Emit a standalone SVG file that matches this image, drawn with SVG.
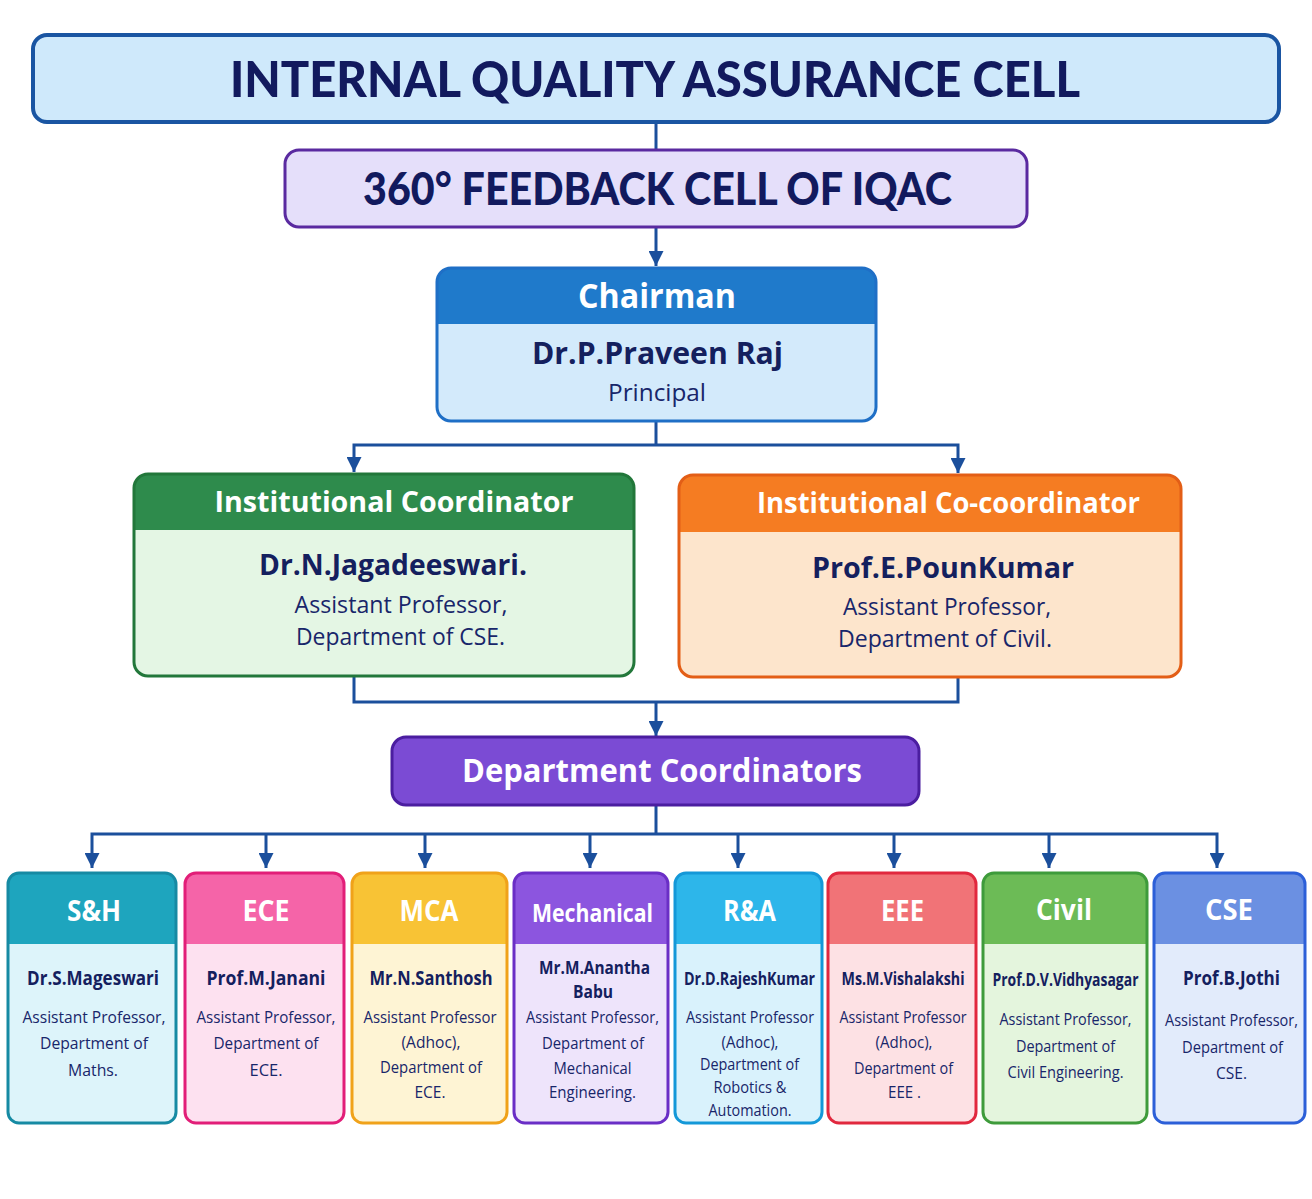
<svg xmlns="http://www.w3.org/2000/svg" width="1312" height="1199" viewBox="0 0 1312 1199">
<defs>
<style>
.ttl{font-family:Lato,"Open Sans","Liberation Sans",sans-serif;font-weight:900;fill:#121a5e;text-anchor:middle}
.hd{font-family:"Open Sans","Liberation Sans",sans-serif;font-weight:700;fill:#ffffff;text-anchor:middle}
.nm{font-family:"Open Sans","Liberation Sans",sans-serif;font-weight:700;fill:#14205e;text-anchor:middle}
.tx{font-family:"Open Sans","Liberation Sans",sans-serif;font-weight:400;fill:#18266a;text-anchor:middle}
.con{fill:none;stroke:#1b4f9c;stroke-width:3}
.s16{font-size:16px}
.n19{font-size:19px}
.h28{font-size:28px}
</style>
<marker id="ah" viewBox="0 0 15 15" refX="15" refY="7.5" markerWidth="15" markerHeight="15" markerUnits="userSpaceOnUse" orient="auto">
<path d="M0,0 L15,7.5 L0,15 Z" fill="#1b4f9c"/>
</marker>
</defs>
<rect x="0" y="0" width="1312" height="1199" fill="#ffffff"/>

<g id="connectors">
<path class="con" d="M656,122 V150"/>
<path class="con" d="M656,227 V266" marker-end="url(#ah)"/>
<path class="con" d="M656,421 V445"/>
<path class="con" d="M656,445 H354 V472" marker-end="url(#ah)"/>
<path class="con" d="M656,445 H958 V473" marker-end="url(#ah)"/>
<path class="con" d="M354,676 V702 H656"/>
<path class="con" d="M958,677 V702 H656"/>
<path class="con" d="M656,702 V736" marker-end="url(#ah)"/>
<path class="con" d="M656,805 V834"/>
<path class="con" d="M656,834 H92 V868" marker-end="url(#ah)"/>
<path class="con" d="M656,834 H1217 V868" marker-end="url(#ah)"/>
<path class="con" d="M266,834 V868" marker-end="url(#ah)"/>
<path class="con" d="M425,834 V868" marker-end="url(#ah)"/>
<path class="con" d="M590,834 V868" marker-end="url(#ah)"/>
<path class="con" d="M738,834 V868" marker-end="url(#ah)"/>
<path class="con" d="M894,834 V868" marker-end="url(#ah)"/>
<path class="con" d="M1049,834 V868" marker-end="url(#ah)"/>
</g>

<g id="iqac">
<rect x="33" y="35" width="1246" height="87" rx="14" fill="#cfe9fb" stroke="#1a55a2" stroke-width="4"/>
<text class="ttl" x="655" y="97" font-size="50" textLength="850" lengthAdjust="spacingAndGlyphs">INTERNAL QUALITY ASSURANCE CELL</text>
</g>

<g id="feedback">
<rect x="285" y="150" width="742" height="77" rx="14" fill="#e5dffa" stroke="#5a2aa0" stroke-width="3"/>
<text class="ttl" x="657.5" y="205" font-size="46" textLength="589" lengthAdjust="spacingAndGlyphs">360° FEEDBACK CELL OF IQAC</text>
</g>

<g id="chairman">
<rect x="437" y="268" width="439" height="153" rx="14" fill="#d3eafb"/>
<path d="M437,324 V282 A14,14 0 0 1 451,268 H862 A14,14 0 0 1 876,282 V324 Z" fill="#1f7acb"/>
<rect x="437" y="268" width="439" height="153" rx="14" fill="none" stroke="#1f6fc6" stroke-width="3"/>
<text class="hd" x="657" y="308" font-size="34" textLength="158" lengthAdjust="spacingAndGlyphs">Chairman</text>
<text class="nm" x="657.5" y="364" font-size="30" textLength="251" lengthAdjust="spacingAndGlyphs">Dr.P.Praveen Raj</text>
<text class="tx" x="657" y="401" font-size="24" textLength="98" lengthAdjust="spacingAndGlyphs">Principal</text>
</g>

<g id="inst-coordinator">
<rect x="134" y="474" width="500" height="202" rx="14" fill="#e4f6e4"/>
<path d="M134,530 V488 A14,14 0 0 1 148,474 H620 A14,14 0 0 1 634,488 V530 Z" fill="#2e8b4c"/>
<rect x="134" y="474" width="500" height="202" rx="14" fill="none" stroke="#22773a" stroke-width="3"/>
<text class="hd" x="394" y="512" font-size="29" textLength="359" lengthAdjust="spacingAndGlyphs">Institutional Coordinator</text>
<text class="nm" x="393" y="575" font-size="29" textLength="268" lengthAdjust="spacingAndGlyphs">Dr.N.Jagadeeswari.</text>
<text class="tx" x="401" y="613" font-size="23" textLength="213" lengthAdjust="spacingAndGlyphs">Assistant Professor,</text>
<text class="tx" x="400.5" y="645" font-size="23" textLength="209" lengthAdjust="spacingAndGlyphs">Department of CSE.</text>
</g>

<g id="inst-co-coordinator">
<rect x="679" y="475" width="502" height="202" rx="14" fill="#fde5cc"/>
<path d="M679,532 V489 A14,14 0 0 1 693,475 H1167 A14,14 0 0 1 1181,489 V532 Z" fill="#f57c22"/>
<rect x="679" y="475" width="502" height="202" rx="14" fill="none" stroke="#e35e16" stroke-width="3"/>
<text class="hd" x="948.5" y="513" font-size="29" textLength="383" lengthAdjust="spacingAndGlyphs">Institutional Co-coordinator</text>
<text class="nm" x="943" y="578" font-size="29" textLength="262" lengthAdjust="spacingAndGlyphs">Prof.E.PounKumar</text>
<text class="tx" x="947" y="615" font-size="23" textLength="208" lengthAdjust="spacingAndGlyphs">Assistant Professor,</text>
<text class="tx" x="945" y="647" font-size="23" textLength="214" lengthAdjust="spacingAndGlyphs">Department of Civil.</text>
</g>

<g id="dept-coordinators">
<rect x="392" y="737" width="527" height="68" rx="14" fill="#7b4bd4" stroke="#4b1ea0" stroke-width="3"/>
<text class="hd" x="662" y="782" font-size="32" textLength="400" lengthAdjust="spacingAndGlyphs">Department Coordinators</text>
</g>

<g id="dept-sh">
<rect x="8" y="873" width="168" height="250" rx="11" fill="#ddf4fa"/>
<path d="M8,944 V884 A11,11 0 0 1 19,873 H165 A11,11 0 0 1 176,884 V944 Z" fill="#1ea5be"/>
<rect x="8" y="873" width="168" height="250" rx="11" fill="none" stroke="#168aa3" stroke-width="3"/>
<text class="hd h28" x="94" y="921" textLength="54" lengthAdjust="spacingAndGlyphs">S&amp;H</text>
<text class="nm n19" x="93" y="985" textLength="132" lengthAdjust="spacingAndGlyphs">Dr.S.Mageswari</text>
<text class="tx s16" x="94" y="1023" textLength="143" lengthAdjust="spacingAndGlyphs">Assistant Professor,</text>
<text class="tx s16" x="94" y="1049" textLength="108" lengthAdjust="spacingAndGlyphs">Department of</text>
<text class="tx s16" x="93" y="1076" textLength="50" lengthAdjust="spacingAndGlyphs">Maths.</text>
</g>

<g id="dept-ece">
<rect x="185" y="873" width="159" height="250" rx="11" fill="#fde1f0"/>
<path d="M185,944 V884 A11,11 0 0 1 196,873 H333 A11,11 0 0 1 344,884 V944 Z" fill="#f564a8"/>
<rect x="185" y="873" width="159" height="250" rx="11" fill="none" stroke="#e21e78" stroke-width="3"/>
<text class="hd h28" x="266" y="921" textLength="47" lengthAdjust="spacingAndGlyphs">ECE</text>
<text class="nm n19" x="266" y="985" textLength="119" lengthAdjust="spacingAndGlyphs">Prof.M.Janani</text>
<text class="tx s16" x="266" y="1023" textLength="139" lengthAdjust="spacingAndGlyphs">Assistant Professor,</text>
<text class="tx s16" x="266" y="1049" textLength="105" lengthAdjust="spacingAndGlyphs">Department of</text>
<text class="tx s16" x="266" y="1076" textLength="33" lengthAdjust="spacingAndGlyphs">ECE.</text>
</g>

<g id="dept-mca">
<rect x="352" y="873" width="155" height="250" rx="11" fill="#fef4d4"/>
<path d="M352,944 V884 A11,11 0 0 1 363,873 H496 A11,11 0 0 1 507,884 V944 Z" fill="#f8c335"/>
<rect x="352" y="873" width="155" height="250" rx="11" fill="none" stroke="#f0a21a" stroke-width="3"/>
<text class="hd h28" x="429" y="921" textLength="59" lengthAdjust="spacingAndGlyphs">MCA</text>
<text class="nm n19" x="431" y="985" textLength="123" lengthAdjust="spacingAndGlyphs">Mr.N.Santhosh</text>
<text class="tx s16" x="430" y="1023" textLength="133" lengthAdjust="spacingAndGlyphs">Assistant Professor</text>
<text class="tx s16" x="431" y="1048" textLength="59" lengthAdjust="spacingAndGlyphs">(Adhoc),</text>
<text class="tx s16" x="431" y="1073" textLength="102" lengthAdjust="spacingAndGlyphs">Department of</text>
<text class="tx s16" x="430" y="1098" textLength="31" lengthAdjust="spacingAndGlyphs">ECE.</text>
</g>

<g id="dept-mechanical">
<rect x="514" y="873" width="154" height="250" rx="11" fill="#eee4fb"/>
<path d="M514,944 V884 A11,11 0 0 1 525,873 H657 A11,11 0 0 1 668,884 V944 Z" fill="#8c55df"/>
<rect x="514" y="873" width="154" height="250" rx="11" fill="none" stroke="#6a2ec6" stroke-width="3"/>
<text class="hd" x="592.5" y="922" font-size="25" textLength="121" lengthAdjust="spacingAndGlyphs">Mechanical</text>
<text class="nm" x="594.5" y="974" font-size="17.5" textLength="111" lengthAdjust="spacingAndGlyphs">Mr.M.Anantha</text>
<text class="nm" x="593" y="998" font-size="17.5" textLength="40" lengthAdjust="spacingAndGlyphs">Babu</text>
<text class="tx s16" x="592.5" y="1023" textLength="133" lengthAdjust="spacingAndGlyphs">Assistant Professor,</text>
<text class="tx s16" x="593" y="1049" textLength="102" lengthAdjust="spacingAndGlyphs">Department of</text>
<text class="tx s16" x="592.5" y="1074" textLength="78" lengthAdjust="spacingAndGlyphs">Mechanical</text>
<text class="tx s16" x="592.5" y="1098" textLength="87" lengthAdjust="spacingAndGlyphs">Engineering.</text>
</g>

<g id="dept-ra">
<rect x="675" y="873" width="147" height="250" rx="11" fill="#d9f2fc"/>
<path d="M675,944 V884 A11,11 0 0 1 686,873 H811 A11,11 0 0 1 822,884 V944 Z" fill="#2db6ea"/>
<rect x="675" y="873" width="147" height="250" rx="11" fill="none" stroke="#1498d8" stroke-width="3"/>
<text class="hd h28" x="749.5" y="921" textLength="53" lengthAdjust="spacingAndGlyphs">R&amp;A</text>
<text class="nm" x="749.5" y="985" font-size="18" textLength="131" lengthAdjust="spacingAndGlyphs">Dr.D.RajeshKumar</text>
<text class="tx s16" x="750" y="1023" textLength="128" lengthAdjust="spacingAndGlyphs">Assistant Professor</text>
<text class="tx s16" x="750" y="1048" textLength="57" lengthAdjust="spacingAndGlyphs">(Adhoc),</text>
<text class="tx s16" x="749.5" y="1070" textLength="99" lengthAdjust="spacingAndGlyphs">Department of</text>
<text class="tx s16" x="750" y="1093" textLength="73" lengthAdjust="spacingAndGlyphs">Robotics &amp;</text>
<text class="tx s16" x="750" y="1116" textLength="83" lengthAdjust="spacingAndGlyphs">Automation.</text>
</g>

<g id="dept-eee">
<rect x="828" y="873" width="148" height="250" rx="11" fill="#fde1e4"/>
<path d="M828,944 V884 A11,11 0 0 1 839,873 H965 A11,11 0 0 1 976,884 V944 Z" fill="#f17377"/>
<rect x="828" y="873" width="148" height="250" rx="11" fill="none" stroke="#e1283e" stroke-width="3"/>
<text class="hd h28" x="902.5" y="921" textLength="43" lengthAdjust="spacingAndGlyphs">EEE</text>
<text class="nm" x="903" y="985" font-size="18" textLength="123" lengthAdjust="spacingAndGlyphs">Ms.M.Vishalakshi</text>
<text class="tx s16" x="903" y="1023" textLength="127" lengthAdjust="spacingAndGlyphs">Assistant Professor</text>
<text class="tx s16" x="904" y="1048" textLength="57" lengthAdjust="spacingAndGlyphs">(Adhoc),</text>
<text class="tx s16" x="903.5" y="1074" textLength="99" lengthAdjust="spacingAndGlyphs">Department of</text>
<text class="tx s16" x="904.5" y="1098" textLength="33" lengthAdjust="spacingAndGlyphs">EEE .</text>
</g>

<g id="dept-civil">
<rect x="983" y="873" width="164" height="250" rx="11" fill="#e4f5dd"/>
<path d="M983,944 V884 A11,11 0 0 1 994,873 H1136 A11,11 0 0 1 1147,884 V944 Z" fill="#6cbb56"/>
<rect x="983" y="873" width="164" height="250" rx="11" fill="none" stroke="#3e9b3b" stroke-width="3"/>
<text class="hd h28" x="1064" y="920" textLength="56" lengthAdjust="spacingAndGlyphs">Civil</text>
<text class="nm" x="1065.5" y="986" font-size="18" textLength="146" lengthAdjust="spacingAndGlyphs">Prof.D.V.Vidhyasagar</text>
<text class="tx s16" x="1065.5" y="1025" textLength="132" lengthAdjust="spacingAndGlyphs">Assistant Professor,</text>
<text class="tx s16" x="1065.5" y="1052" textLength="99" lengthAdjust="spacingAndGlyphs">Department of</text>
<text class="tx s16" x="1065.5" y="1078" textLength="116" lengthAdjust="spacingAndGlyphs">Civil Engineering.</text>
</g>

<g id="dept-cse">
<rect x="1154" y="873" width="151" height="250" rx="11" fill="#e2ebfb"/>
<path d="M1154,944 V884 A11,11 0 0 1 1165,873 H1294 A11,11 0 0 1 1305,884 V944 Z" fill="#6b90e2"/>
<rect x="1154" y="873" width="151" height="250" rx="11" fill="none" stroke="#2c5fd8" stroke-width="3"/>
<text class="hd h28" x="1229" y="920" textLength="48" lengthAdjust="spacingAndGlyphs">CSE</text>
<text class="nm n19" x="1231.5" y="985" textLength="97" lengthAdjust="spacingAndGlyphs">Prof.B.Jothi</text>
<text class="tx s16" x="1231.5" y="1026" textLength="133" lengthAdjust="spacingAndGlyphs">Assistant Professor,</text>
<text class="tx s16" x="1232.5" y="1053" textLength="101" lengthAdjust="spacingAndGlyphs">Department of</text>
<text class="tx s16" x="1231.5" y="1079" textLength="31" lengthAdjust="spacingAndGlyphs">CSE.</text>
</g>
</svg>
